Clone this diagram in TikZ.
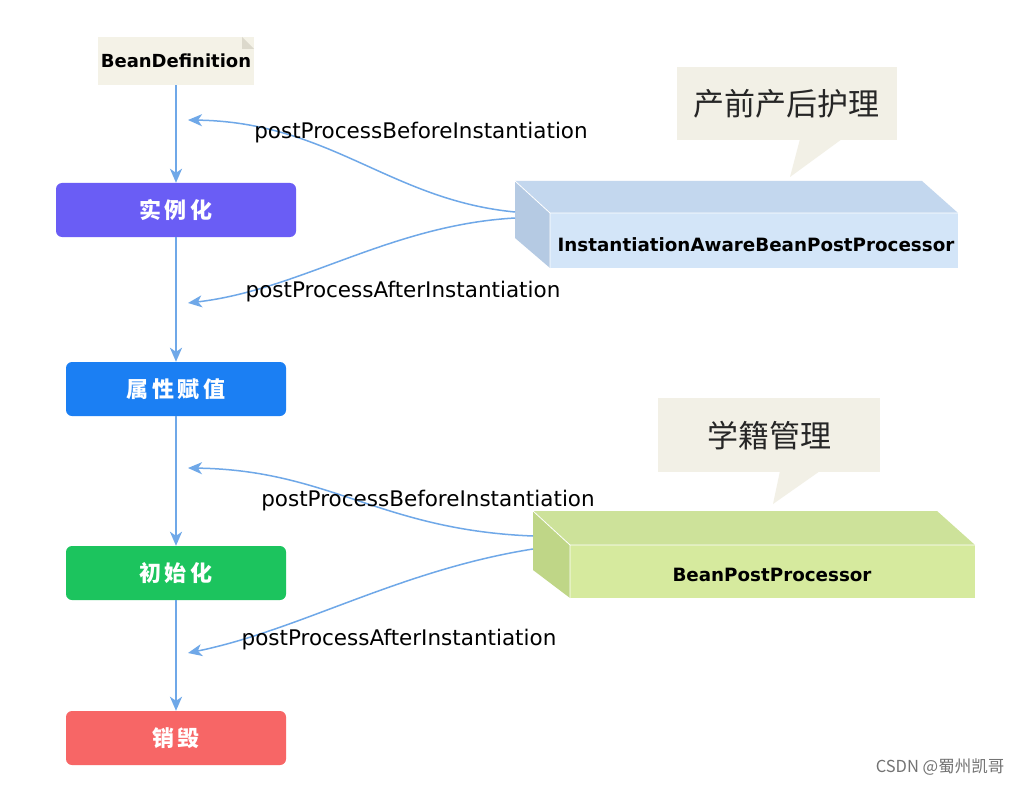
\documentclass[tikz,border=0pt]{standalone}
\usepackage{fontspec}
\setmainfont{DejaVu Sans}
\newfontfamily\cjk{Noto Sans CJK SC}
\usetikzlibrary{arrows.meta}
\definecolor{flowblue}{HTML}{6FA8E8}
\definecolor{notebg}{HTML}{F4F2E7}
\definecolor{notefold}{HTML}{DCD9CC}
\definecolor{cpurple}{HTML}{6A5DF5}
\definecolor{cblue}{HTML}{1B7FF3}
\definecolor{cgreen}{HTML}{1CC45E}
\definecolor{cred}{HTML}{F76666}
\definecolor{btop}{HTML}{C3D7EE}
\definecolor{bfront}{HTML}{D3E5F8}
\definecolor{bside}{HTML}{B5CAE3}
\definecolor{gtop}{HTML}{CDE29A}
\definecolor{gfront}{HTML}{D6EA9E}
\definecolor{gside}{HTML}{BFD687}
\definecolor{bubble}{HTML}{F2F0E6}
\tikzset{
  stage/.style={rounded corners=6pt, minimum width=230pt, minimum height=54pt, inner sep=0pt,
    text=white, font=\cjk\bfseries\fontsize{22}{26}\selectfont},
  flow/.style={draw=flowblue, line width=1.9pt, -{Stealth[length=14pt,width=12pt,inset=4pt]}},
  hook/.style={draw=flowblue, line width=1.5pt, -{Stealth[length=14pt,width=12pt,inset=4pt]}},
  lbl/.style={font=\fontsize{21.5}{25}\selectfont, text=black, inner sep=0pt},
  boxlbl/.style={font=\bfseries\fontsize{18.3}{22}\selectfont, text=black, inner sep=0pt},
  bubtxt/.style={font=\cjk\fontsize{31}{35}\selectfont, text=black!85, inner sep=0pt},
  faceedge/.style={draw=white, line width=0.8pt, line join=round},
}
\begin{document}
\begin{tikzpicture}[x=1pt,y=-1pt]
\useasboundingbox[fill=white] (0,0) rectangle (1024,786);

% BeanDefinition note
\node[fill=notebg, minimum width=156pt, minimum height=48pt, inner sep=0pt,
      font=\bfseries\fontsize{18}{22}\selectfont] (bd) at (176,61) {BeanDefinition};
\fill[notefold] (242,37) -- (254,49) -- (242,49) -- cycle;

% stages
\node[stage, fill=cpurple, minimum width=240pt] (inst) at (176,210) {实\,例\,化};
\node[stage, fill=cblue, minimum width=220pt] (prop) at (176,389) {属\,性\,赋\,值};
\node[stage, fill=cgreen, minimum width=220pt] (init) at (176,573) {初\,始\,化};
\node[stage, fill=cred, minimum width=220pt] (dest) at (176,738) {销\,毁};

\draw[flow] (bd.south) -- (inst.north);
\draw[flow] (inst.south) -- (prop.north);
\draw[flow] (prop.south) -- (init.north);
\draw[flow] (init.south) -- (dest.north);

% hook target points on the flow line
\coordinate (t1) at (188,120);
\coordinate (t2) at (188,303);
\coordinate (t3) at (188,468);
\coordinate (t4) at (188,653);

% 3D box 1
\coordinate (a1) at (515,181); \coordinate (b1) at (922,181);
\coordinate (c1) at (958,213); \coordinate (d1) at (550,213);
\coordinate (e1) at (550,268); \coordinate (f1) at (958,268);
\coordinate (g1) at (515,238);
\coordinate (s1) at (515,212); \coordinate (s2) at (515,218);
\fill[btop] (a1) -- (b1) -- (c1) -- (d1) -- cycle;
\fill[bside] (a1) -- (d1) -- (e1) -- (g1) -- cycle;
\fill[bfront] (d1) -- (c1) -- (f1) -- (e1) -- cycle;
\draw[faceedge] (a1) -- (d1) -- (c1) (d1) -- (e1);
\node[boxlbl] (iabpp) at (756,245) {InstantiationAwareBeanPostProcessor};

% 3D box 2
\coordinate (a2) at (533,511); \coordinate (b2) at (937,511);
\coordinate (c2) at (975,545); \coordinate (d2) at (570,545);
\coordinate (e2) at (570,598); \coordinate (f2) at (975,598);
\coordinate (g2) at (533,570);
\coordinate (s3) at (533,536); \coordinate (s4) at (533,549);
\fill[gtop] (a2) -- (b2) -- (c2) -- (d2) -- cycle;
\fill[gside] (a2) -- (d2) -- (e2) -- (g2) -- cycle;
\fill[gfront] (d2) -- (c2) -- (f2) -- (e2) -- cycle;
\draw[faceedge] (a2) -- (d2) -- (c2) (d2) -- (e2);
\node[boxlbl] (bpp) at (772,575) {BeanPostProcessor};

% hooks
\draw[hook] (s1) .. controls (390,200) and (330,122) .. (t1);
\draw[hook] (s2) .. controls (390,225) and (300,290) .. (t2);
\draw[hook] (s3) .. controls (380,530) and (330,470) .. (t3);
\draw[hook] (s4) .. controls (400,570) and (300,630) .. (t4);

\node[lbl] (l1) at (421,133) {postProcessBeforeInstantiation};
\node[lbl] (l2) at (403,292) {postProcessAfterInstantiation};
\node[lbl] (l3) at (428,501) {postProcessBeforeInstantiation};
\node[lbl] (l4) at (399,640) {postProcessAfterInstantiation};

% bubbles
\fill[bubble] (677,67) rectangle (897,140);
\fill[bubble] (800,139) -- (790,177) -- (842,139) -- cycle;
\node[bubtxt] (bub1) at (786,104) {产前产后护理};
\fill[bubble] (658,398) rectangle (880,472);
\fill[bubble] (780,471) -- (773,504) -- (820,471) -- cycle;
\node[bubtxt] (bub2) at (769,436) {学籍管理};

% watermark
\node[font=\cjk\fontsize{16.5}{19}\selectfont, text=black!55, inner sep=0pt] (wm) at (940,767) {CSDN @蜀州凯哥};
\end{tikzpicture}
\end{document}
